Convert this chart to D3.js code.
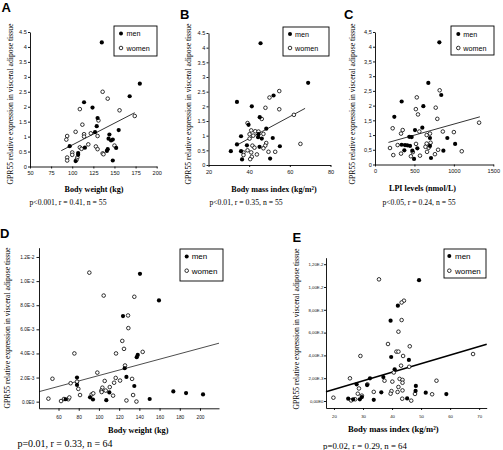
<!DOCTYPE html>
<html><head><meta charset="utf-8">
<script src="https://cdn.jsdelivr.net/npm/d3@7"></script>
<style>body{margin:0;background:#fff}svg{display:block}</style>
</head><body><svg id="c" width="503" height="450"></svg>
<script>
// ---------- DATA ----------
const yTitle = "GPR55 relative expression in visceral adipose tissue";
const legendLabels = ["men", "women"];

// Panel A: body weight (kg) vs expression
const aMen = [[135,4.15],[180,2.77],[168,2.35],[114,2.15],[124,1.97],[130,1.62],[129,1.35],[127,1.15],[155,1.22],[144,1.07],[143,0.93],[146,0.87],[148,0.9],[97,0.68],[115,0.63],[142,0.58],[141,0.52],[152,0.62],[107,0.45],[107,0.39],[104,0.18],[148,0.2]];
const aWomen = [[136,2.5],[142,2.27],[109,1.92],[156,1.88],[174,1.69],[112,1.4],[131,1.54],[104,1.16],[114,1.08],[114,1.0],[122,1.11],[130,1.02],[94,1.02],[93,0.9],[119,0.74],[109,0.64],[111,0.59],[128,0.67],[130,0.58],[136,0.44],[137,0.41],[150,0.7],[100,0.47],[100,0.39],[94,0.3],[94,0.2],[106,0.3],[105,0.22]];
const aFit = [[87,0.53],[174,1.8]];
const aXTicks = [50,75,100,125,150,175,200];
const aYTicks = [0,0.5,1,1.5,2,2.5,3,3.5,4,4.5];
const aYLabels = ["0","0.5","1","1.5","2","2.5","3","3.5","4","4.5"];

// Panel B: BMI vs expression
const bMen = [[45.6,4.15],[69,2.8],[52,2.37],[34,2.15],[41.3,2.0],[45.2,1.63],[39.7,1.37],[48.4,1.24],[36,0.98],[44.6,1.05],[44.4,0.95],[46.2,0.9],[51.6,0.92],[34,0.7],[38.9,0.67],[55.1,0.64],[45.1,0.62],[31,0.47],[36,0.47],[36.5,0.19],[50.3,0.22]];
const bWomen = [[54.8,2.52],[50,2.3],[48,1.95],[54.8,1.9],[62,1.71],[39.2,1.43],[46.2,1.57],[41,1.18],[43,1.15],[44.6,1.14],[47,1.06],[40.2,1.05],[42,1.0],[40.2,0.9],[65.2,0.72],[41.6,0.66],[42.6,0.59],[48.4,0.75],[47.9,0.66],[47,0.57],[39.2,0.5],[37.2,0.43],[41,0.43],[43.8,0.36],[49.5,0.45],[52.8,0.45],[41.3,0.28],[40.5,0.2],[37.2,0.34]];
const bFit = [[34,0.68],[67.5,1.93]];
const bXTicks = [20,40,60,80];

// Panel C: LPI levels vs expression
const cMen = [[816,4.15],[676,2.77],[840,2.36],[338,2.14],[613,1.98],[245,1.62],[600,1.25],[507,1.17],[917,0.9],[697,0.9],[435,0.94],[465,0.93],[338,0.67],[380,0.66],[410,0.65],[444,0.63],[697,0.63],[372,0.48],[473,0.47],[867,0.47],[710,0.22],[495,0.19],[1016,0.7],[537,0.55]];
const cWomen = [[820,2.52],[530,2.28],[518,1.88],[545,1.7],[770,1.93],[790,1.55],[224,1.23],[351,1.17],[330,1.05],[562,1.12],[655,1.0],[697,1.05],[860,1.12],[1000,1.1],[1320,1.42],[287,0.66],[190,0.56],[520,0.7],[655,0.71],[705,0.74],[680,0.57],[800,0.5],[330,0.37],[232,0.32],[455,0.28],[570,0.3],[760,0.35],[1100,0.45],[660,0.43],[480,0.42],[640,0.6]];
const cFit = [[170,0.75],[1330,1.62]];
const cXTicks = [0,500,1000,1500];
const cYLabels = ["0","0,5","1","1,5","2","2,5","3","3,5","4","4,5"];

// Panel D: body weight (kg) vs expression (n = 64)
const dMen = [[140.6,0.0106],[159.4,0.0084],[123.8,0.0071],[138.4,0.00388],[137.4,0.00369],[125.5,0.00277],[78.3,0.002],[127.2,0.00205],[78.3,0.00139],[135,0.0013],[110.3,0.00077],[173.6,0.00085],[186.2,0.00071],[203,0.0006],[91.2,0.00036],[94.1,0.00018],[67.1,0.0002],[107.3,0.00012],[150.2,0.00022]];
const dWomen = [[90.5,0.0107],[104.7,0.0088],[135,0.0087],[128.8,0.00715],[129.1,0.0061],[123.1,0.00504],[124.8,0.00438],[116.9,0.004],[75.7,0.004],[143.3,0.00413],[125.8,0.003],[98.4,0.00241],[54,0.0019],[50,0.00025],[62.5,0.00005],[69.7,0.0002],[65.4,0.00022],[70.7,0.00035],[72,0.00153],[78.3,0.00166],[79.6,0.00106],[81.3,0.00055],[92.8,0.0006],[94.4,0.00069],[103.4,0.00116],[102.4,0.00092],[102.7,0.0008],[106.7,0.00092],[105.7,0.00172],[110.7,0.00121],[115,0.00157],[116.6,0.00197],[120.9,0.00175],[132.8,0.00189],[133.8,0.00055],[127.2,0.0001],[137.1,0.00001],[114,0.0005]];
const dFit = [[40.7,0.00083],[218.8,0.00485]];
const dXTicks = [60,80,100,120,140,160,180,200];
const deYTicks = [0,0.002,0.004,0.006,0.008,0.010,0.012];
const dYLabels = ["0.0E0","2.0E-3","4.0E-3","6.0E-3","8.0E-3","1.0E-2","1.2E-2"];

// Panel E: BMI vs expression (n = 64)
const eMen = [[49.3,0.0106],[42,0.00836],[39.5,0.00705],[39.7,0.00386],[45.8,0.0036],[40.9,0.00278],[32.4,0.00199],[37,0.0021],[27.8,0.00146],[31.4,0.0014],[48.2,0.00132],[48.1,0.00088],[51.6,0.00073],[58.7,0.00061],[36.3,0.00076],[24.9,0.0002],[26.6,0.00015],[28.9,0.00015],[29.6,0.00034],[33.7,0.0001],[45.2,0.00023]];
const eWomen = [[35.5,0.01067],[44.1,0.0088],[43.3,0.00864],[43.3,0.0071],[42.2,0.00608],[38.6,0.005],[41.5,0.00433],[42.2,0.00433],[46.1,0.0048],[29.1,0.00395],[43.8,0.00395],[67.9,0.00412],[43.1,0.0031],[45.9,0.003],[25.5,0.00199],[40.1,0.0017],[42.6,0.00194],[43.6,0.00185],[43.6,0.0016],[37.4,0.00178],[31.5,0.00146],[55.3,0.00178],[42.2,0.00123],[39.8,0.00087],[39.5,0.00064],[41.9,0.00079],[43.6,0.00093],[28.6,0.0011],[28.2,0.00064],[29.6,0.00047],[19.8,0.00029],[25.9,0.00005],[27.3,0.00015],[47.9,0.00062],[53.8,0.00059],[43.5,0.0002],[46.6,0.00003],[33.7,0.0008],[40.6,0.0025]];
const eFit = [[17.25,0.00082],[72.6,0.00497]];
const eXTicks = [20,30,40,50,60,70];
const eYLabels = ["0,00E0","2,00E-3","4,00E-3","6,00E-3","8,00E-3","1,00E-2","1,20E-2"];

// ---------- DRAWING ----------
const svg = d3.select("#c");
svg.append("rect").attr("width",503).attr("height",450).attr("fill","#fff");
const SANS = "Liberation Sans, Arial, sans-serif";
const SERIF = "Liberation Serif, Times New Roman, serif";

function panel(o) {
  const g = svg.append("g");
  const x = d3.scaleLinear().domain(o.xDomain).range(o.xRange);
  const y = d3.scaleLinear().domain(o.yDomain).range(o.yRange);
  const xa = d3.axisBottom(x).tickValues(o.xTicks)
    .tickFormat((d,i)=> o.xLabels ? o.xLabels[i] : String(d))
    .tickSize(o.tick).tickSizeOuter(0).tickPadding(o.xPad);
  const ya = d3.axisLeft(y).tickValues(o.yTicks)
    .tickFormat((d,i)=> o.yLabels[i]).tickSize(o.tick).tickSizeOuter(0).tickPadding(o.yPad);
  const gx = g.append("g").attr("transform",`translate(0,${o.yRange[0]})`).call(xa);
  const gy = g.append("g").attr("transform",`translate(${o.xRange[0]},0)`).call(ya);
  [gx,gy].forEach(a=>{
    a.selectAll("path,line").attr("stroke","#000").attr("stroke-width",o.axisW);
    a.selectAll("text").attr("font-family",SANS).attr("font-size",o.tickFont).attr("fill","#111");
  });
  // fit line
  g.append("line")
    .attr("x1",x(o.fit[0][0])).attr("y1",y(o.fit[0][1]))
    .attr("x2",x(o.fit[1][0])).attr("y2",y(o.fit[1][1]))
    .attr("stroke","#000").attr("stroke-width",o.fitW);
  // points
  g.append("g").selectAll("circle").data(o.women).join("circle")
    .attr("cx",d=>x(d[0])).attr("cy",d=>y(d[1])).attr("r",o.r)
    .attr("fill","#fff").attr("stroke","#000").attr("stroke-width",0.8);
  g.append("g").selectAll("circle").data(o.men).join("circle")
    .attr("cx",d=>x(d[0])).attr("cy",d=>y(d[1])).attr("r",o.r+0.3).attr("fill","#000");
  // legend
  const L = o.legend;
  g.append("rect").attr("x",L.x0).attr("y",L.y0).attr("width",L.x1-L.x0).attr("height",L.y1-L.y0)
    .attr("fill","#fff").attr("stroke","#000").attr("stroke-width",0.9);
  g.append("circle").attr("cx",L.mx).attr("cy",L.ym).attr("r",o.r+0.2).attr("fill","#000");
  g.append("circle").attr("cx",L.mx).attr("cy",L.yw).attr("r",o.r).attr("fill","#fff").attr("stroke","#000").attr("stroke-width",0.8);
  [[legendLabels[0],L.ym],[legendLabels[1],L.yw]].forEach(([t,yy])=>{
    g.append("text").attr("x",L.tx).attr("y",yy).attr("dy","0.35em").text(t)
      .attr("font-family",SANS).attr("font-size",L.font).attr("fill","#000");
  });
  // panel letter
  g.append("text").attr("x",o.letter[0]).attr("y",o.letter[1]).text(o.letter[2])
    .attr("font-family",SANS).attr("font-weight","bold").attr("font-size",13).attr("fill","#000");
  // y title
  g.append("text").attr("transform",`translate(${o.yt[0]},${o.yt[1]}) rotate(-90)`)
    .attr("text-anchor","middle").attr("dy","0.35em").text(yTitle)
    .attr("font-family",SERIF).attr("font-size",7.7).attr("fill","#000");
  // x title
  g.append("text").attr("x",o.xt[0]).attr("y",o.xt[1]).attr("text-anchor","middle").attr("dy","0.35em")
    .text(o.xTitle).attr("font-family",SERIF).attr("font-weight","bold").attr("font-size",o.xtFont).attr("fill","#000");
  // stats
  g.append("text").attr("x",o.st[0]).attr("y",o.st[1]).attr("text-anchor","middle").attr("dy","0.35em")
    .text(o.stat).attr("font-family",SERIF).attr("font-size",o.stFont).attr("fill","#000");
}

panel({xDomain:[50,200],xRange:[30,156.7],yDomain:[0,4.5],yRange:[166.5,32],
  xTicks:aXTicks,yTicks:aYTicks,yLabels:aYLabels,tick:2,xPad:3,yPad:1.2,axisW:0.9,tickFont:5.6,
  men:aMen,women:aWomen,fit:aFit,fitW:0.8,r:1.8,
  legend:{x0:114,y0:26,x1:157,y1:56,mx:121,ym:33.5,yw:48,tx:126.5,font:7.2},
  letter:[1.5,12,"A"],yt:[10,104],xt:[94,189],xTitle:"Body weight (kg)",xtFont:8.1,
  st:[68,202],stat:"p<0.001, r = 0.41, n = 55",stFont:7.7});

panel({xDomain:[20,80],xRange:[208.5,330.5],yDomain:[0,4.5],yRange:[165,33],
  xTicks:bXTicks,yTicks:aYTicks,yLabels:aYLabels,tick:2,xPad:3,yPad:1.2,axisW:0.9,tickFont:5.6,
  men:bMen,women:bWomen,fit:bFit,fitW:0.8,r:1.8,
  legend:{x0:283,y0:27,x1:329,y1:56,mx:290,ym:34,yw:48,tx:295,font:7.2},
  letter:[180,19,"B"],yt:[188.3,104],xt:[274,189],xTitle:"Body mass index (kg/m²)",xtFont:8.1,
  st:[246,202],stat:"p<0.01, r = 0.35, n = 55",stFont:7.7});

panel({xDomain:[0,1500],xRange:[375,493.3],yDomain:[0,4.5],yRange:[164.5,32],
  xTicks:cXTicks,yTicks:aYTicks,yLabels:cYLabels,tick:2,xPad:3,yPad:1.2,axisW:0.9,tickFont:5.6,
  men:cMen,women:cWomen,fit:cFit,fitW:0.8,r:1.8,
  legend:{x0:451,y0:26,x1:494,y1:55,mx:458.3,ym:34,yw:48,tx:463.3,font:7.2},
  letter:[344,18.5,"C"],yt:[352.7,104],xt:[422.5,188],xTitle:"LPI levels (nmol/L)",xtFont:8.1,
  st:[419,202],stat:"p<0.05, r = 0.24, n = 55",stFont:7.7});

panel({xDomain:[40.7,218.8],xRange:[39,219],yDomain:[-0.00055,0.01277],yRange:[408.3,247.7],
  xTicks:dXTicks,yTicks:deYTicks,yLabels:dYLabels,tick:2.5,xPad:5,yPad:2,axisW:0.9,tickFont:4.8,
  men:dMen,women:dWomen,fit:dFit,fitW:0.7,r:1.8,
  legend:{x0:180,y0:249,x1:223,y1:281,mx:186.7,ym:256.5,yw:270.7,tx:191.7,font:8},
  letter:[0,238,"D"],yt:[7.3,328],xt:[138.3,430],xTitle:"Body weight (kg)",xtFont:8.3,
  st:[65,443],stat:"p=0.01, r = 0.33, n = 64",stFont:10});

panel({xDomain:[17.25,72.6],xRange:[326,486.7],yDomain:[-0.000614,0.01257],yRange:[408,257.7],
  xTicks:eXTicks,yTicks:deYTicks,yLabels:eYLabels,tick:2,xPad:5,yPad:0.5,axisW:0.9,tickFont:4.3,
  men:eMen,women:eWomen,fit:eFit,fitW:1.6,r:1.8,
  legend:{x0:444,y0:249,x1:486,y1:278,mx:449.3,ym:256,yw:270.7,tx:455,font:8},
  letter:[292.5,242,"E"],yt:[296.7,329],xt:[393.3,429.3],xTitle:"Body mass index (kg/m²)",xtFont:8.6,
  st:[365,446],stat:"p=0.02, r = 0.29, n = 64",stFont:8.8});
</script>
</body></html>
